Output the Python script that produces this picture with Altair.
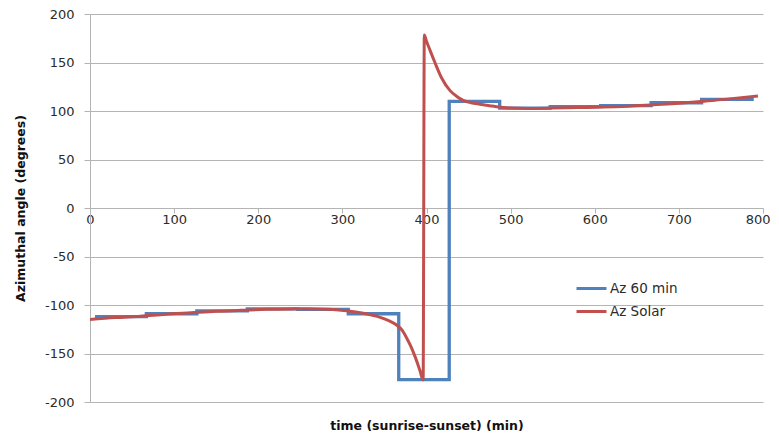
import altair as alt
import pandas as pd

# Hourly (60 min) azimuth, drawn as steps: start minute of each step, value
step_minutes = [6, 67, 127, 187, 247, 307, 367, 427, 487, 547, 607, 667, 727, 789]
step_az = [-112, -109, -106, -104, -104.5, -109, -177, 110, 103, 104.5, 105.5, 108.5, 112, 112]

# Solar azimuth curve
solar_minutes = [0, 30, 60, 90, 120, 150, 180, 210, 240, 260, 285, 305, 325, 345, 355,
                 364.5, 371, 376.4, 381, 386.3, 392, 396, 397.4, 400, 404, 410, 418, 428,
                 436, 443.7, 453, 463.6, 475, 487, 499, 520, 550, 580, 610, 640, 670,
                 700, 730, 760, 794]
solar_az = [-115, -113, -111.5, -109.5, -108, -106.5, -105.5, -104.5, -104, -103.8, -104.5,
            -106, -108.6, -112.7, -116, -120.6, -126, -134, -142, -153, -167, -177.3, 178.4,
            172, 163, 150, 134, 121, 115, 111, 108.5, 107, 105.5, 104, 103, 102.7, 103,
            103.5, 104, 105, 106.5, 108, 110, 112.5, 115.5]

series_names = ["Az 60 min", "Az Solar"]
series_colors = ["#4F81BD", "#C0504D"]

x_ticks = list(range(0, 801, 100))
y_ticks = list(range(-200, 201, 50))

df_step = pd.DataFrame({"t": step_minutes, "az": step_az, "series": series_names[0]})
df_solar = pd.DataFrame({"t": solar_minutes, "az": solar_az, "series": series_names[1]})

FONT = "DejaVu Sans"
TXT = "#2b2b2b"
GRID = "#B4B4B4"

x_enc = alt.X(
    "t:Q",
    scale=alt.Scale(domain=[0, 800], nice=False, zero=False),
    axis=alt.Axis(
        values=x_ticks,
        labelExpr="'' + datum.value",
        labelAlign={"expr": "datum.value == 800 ? 'right' : 'center'"},
        labelOffset={"expr": "datum.value == 800 ? 7 : 0"},
        title="time (sunrise-sunset) (min)",
        offset=-194,
        grid=False,
        domain=False,
        tickSize=5,
        tickColor=GRID,
        labelPadding=0,
        labelFlush=False,
        labelFont=FONT,
        labelFontSize=13,
        labelColor=TXT,
        titleFont=FONT,
        titleFontSize=12.5,
        titleFontWeight="bold",
        titleColor="#111111",
        titleY=217,
        titleBaseline="middle",
    ),
)

y_enc = alt.Y(
    "az:Q",
    scale=alt.Scale(domain=[-200, 200], nice=False, zero=False),
    axis=alt.Axis(
        values=y_ticks,
        labelExpr="'' + datum.value",
        title="Azimuthal angle (degrees)",
        grid=True,
        gridColor=GRID,
        gridWidth=1,
        domainColor=GRID,
        tickColor=GRID,
        tickSize=6,
        labelPadding=10,
        labelFont=FONT,
        labelFontSize=13,
        labelColor=TXT,
        titleFont=FONT,
        titleFontSize=12.5,
        titleFontWeight="bold",
        titleColor="#111111",
        titleX=-70,
        titleY=194,
        titleBaseline="middle",
    ),
)

color_enc = alt.Color(
    "series:N",
    scale=alt.Scale(domain=series_names, range=series_colors),
    legend=alt.Legend(
        orient="none",
        legendX=485,
        legendY=258,
        title=None,
        symbolType="stroke",
        symbolSize=900,
        symbolStrokeWidth=3,
        labelFont=FONT,
        labelFontSize=13.5,
        labelColor=TXT,
        labelOffset=2,
        rowPadding=0,
        padding=0,
    ),
)

step_layer = alt.Chart(df_step).mark_line(interpolate="step-after", strokeWidth=3.3).encode(
    x=x_enc, y=y_enc, color=color_enc
)
solar_layer = alt.Chart(df_solar).mark_line(interpolate="monotone", strokeWidth=3).encode(
    x=x_enc, y=y_enc, color=color_enc
)

chart = (
    alt.layer(step_layer, solar_layer)
    .properties(
        width=673,
        height=388,
        autosize=alt.AutoSizeParams(type="none"),
        padding={"left": 82, "top": 6, "right": 8, "bottom": 29},
        background="white",
    )
    .configure_view(stroke=None)
)

chart.save("out.html", embed_options={"renderer": "svg", "actions": False})
